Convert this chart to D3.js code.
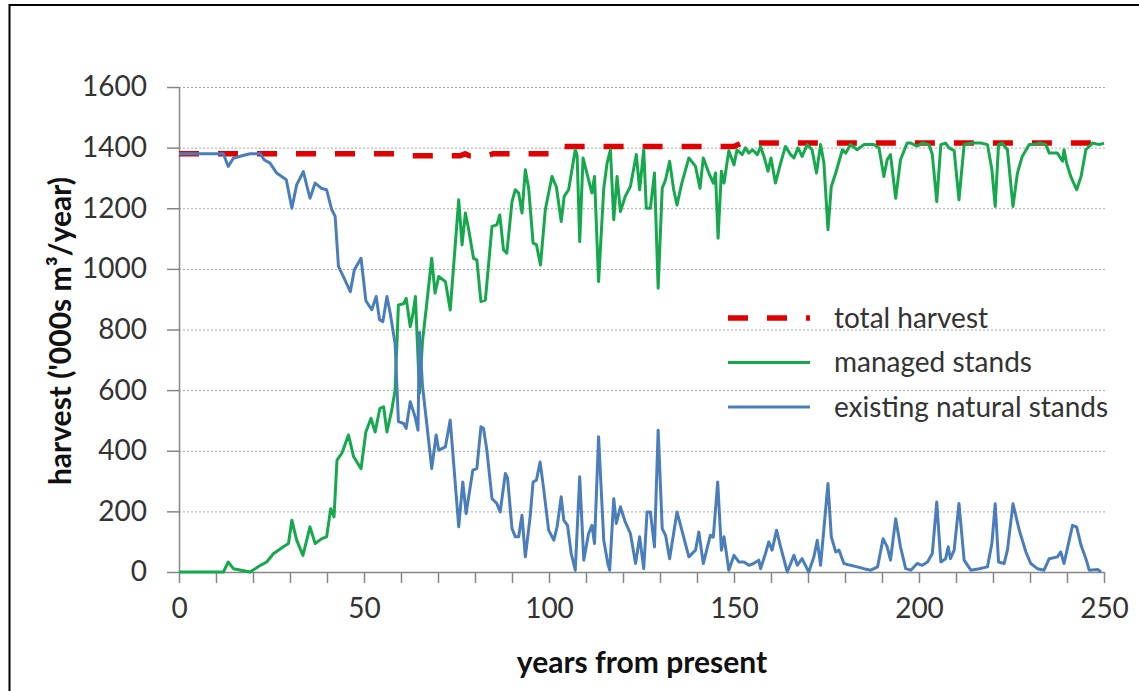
<!DOCTYPE html>
<html>
<head>
<meta charset="utf-8">
<script src="https://cdn.jsdelivr.net/npm/d3@7"></script>
<style>
  body { margin: 0; background: #fff; }
  svg { display: block; font-family: Lato, "Open Sans", sans-serif; }
</style>
</head>
<body>
<svg id="chart" width="1139" height="691"></svg>
<script>
// [year, '000s m3/year] at its turning points
const totalHarvest = [
  [0, 1380], [60, 1380], [63, 1373], [76, 1373], [77.3, 1380], [78.5, 1373], [83, 1373],
  [85, 1380], [102, 1380], [104, 1404], [150, 1404], [152, 1415], [250, 1415]
];

const managedStands = [
  [0, 0], [12, 0], [13.3, 33], [14.7, 11], [19.2, 0], [22, 22], [23.7, 33], [25.5, 60],
  [28.2, 83], [29.6, 94], [30.5, 171], [31.8, 105], [33.5, 55], [35.4, 149], [36.8, 94],
  [38.6, 110], [39.9, 116], [41, 209], [41.9, 182], [42.7, 369], [44, 391], [45.8, 452],
  [47.2, 380], [49.2, 341], [50.5, 462], [51.9, 507], [53, 462], [54.3, 540], [55.3, 545],
  [56.2, 462], [57.5, 534], [58.4, 600], [59.3, 881], [60.7, 885], [61.4, 903], [62.5, 809],
  [63.2, 850], [63.9, 909], [65, 589], [65.8, 760], [67, 890], [68.3, 1035], [69.2, 920],
  [70.2, 975], [72, 958], [73.3, 864], [75.6, 1228], [76.5, 1079], [77.4, 1184], [78.3, 1129],
  [79.6, 1035], [80.5, 1030], [81.6, 892], [82.8, 897], [84.6, 1140], [85.9, 1145],
  [86.7, 1178], [87.7, 1063], [88.6, 1052], [90, 1222], [90.9, 1261], [91.8, 1250],
  [92.7, 1184], [93.6, 1327], [94.5, 1266], [95.7, 1085], [96.6, 1080], [97.7, 1013],
  [99, 1195], [100.8, 1305], [102, 1270], [103.3, 1156], [104.1, 1239], [105.3, 1261],
  [107.1, 1393], [107.6, 1375], [108.3, 1090], [109.2, 1366], [110.7, 1294], [111.6, 1250],
  [112.3, 1305], [113.4, 958], [114.8, 1266], [115.7, 1349], [116.6, 1393], [117.5, 1162],
  [118.4, 1305], [119.3, 1189], [120.6, 1239], [122, 1272], [123.6, 1377], [124.5, 1261],
  [125.6, 1393], [126.3, 1200], [127.4, 1200], [128.5, 1316], [129.5, 936], [130.6, 1266],
  [131.5, 1294], [132.6, 1355], [133.7, 1261], [134.6, 1211], [135.9, 1283], [137.8, 1366],
  [139.6, 1338], [140.8, 1266], [141.7, 1366], [143.2, 1316], [144.4, 1283], [145, 1316],
  [145.7, 1101], [146.6, 1322], [147.3, 1283], [148.6, 1390], [150, 1343], [150.8, 1393],
  [152.2, 1377], [153.1, 1399], [154, 1382], [155, 1393], [156.3, 1377], [157.2, 1404],
  [158.1, 1371], [159.2, 1322], [160, 1366], [161.2, 1283], [162.6, 1349], [163.9, 1404],
  [165.3, 1377], [166.2, 1366], [167.3, 1399], [168.4, 1371], [169.8, 1410], [171.1, 1393],
  [172.3, 1316], [173.4, 1410], [174.3, 1349], [175.4, 1129], [176.3, 1272], [177.5, 1316],
  [178.4, 1355], [179.3, 1393], [180.2, 1382], [181.5, 1410], [183.3, 1393], [185.1, 1410],
  [187.8, 1410], [189.2, 1399], [190.5, 1305], [191.4, 1360], [192.3, 1377], [193.7, 1233],
  [195, 1360], [196.8, 1415], [197.8, 1415], [199.5, 1405], [200.9, 1415], [202.7, 1410],
  [203.6, 1377], [204.8, 1222], [205.9, 1410], [207.2, 1415], [208.1, 1399], [209.5, 1390],
  [210.8, 1228], [212.2, 1410], [214.4, 1415], [216.7, 1415], [218.5, 1410], [219.7, 1327],
  [220.6, 1206], [221.5, 1410], [222.5, 1415], [223.9, 1393], [225.4, 1206], [226.6, 1316],
  [227.9, 1371], [229.8, 1410], [231.2, 1410], [232.5, 1415], [234.3, 1410], [235.2, 1382],
  [237.4, 1382], [238.8, 1355], [239.2, 1393], [239.9, 1349], [241, 1305], [242.6, 1261],
  [243.8, 1305], [245.1, 1393], [246.9, 1415], [248.7, 1410], [250, 1415]
];

const naturalStands = [
  [0, 1380], [12, 1380], [13.3, 1338], [14.7, 1365], [17, 1373], [19.2, 1380], [22, 1380],
  [23, 1360], [24.6, 1349], [26.4, 1316], [29, 1294], [30.5, 1200], [31.8, 1277],
  [33.6, 1321], [35.4, 1233], [36.8, 1283], [38.6, 1265], [39.9, 1261], [41.3, 1195],
  [42.2, 1173], [43.1, 1008], [44.4, 975], [46.3, 925], [47.4, 997], [49.2, 1035],
  [50.5, 895], [52.1, 865], [53.3, 909], [54.2, 832], [55.1, 826], [56.2, 909], [57.1, 853],
  [58.4, 754], [59.3, 496], [60.7, 490], [61.4, 474], [62.5, 562], [63.8, 512], [64.6, 468],
  [65, 790], [65.8, 615], [67, 485], [68.3, 341], [69.5, 452], [70.2, 402], [72, 413],
  [73.3, 501], [75.6, 149], [76.7, 297], [77.6, 193], [79.4, 336], [80.5, 341], [81.6, 479],
  [82.3, 474], [83.2, 402], [84.6, 242], [85.9, 226], [86.8, 198], [88.2, 325], [88.8, 310],
  [90, 143], [90.9, 116], [91.8, 116], [92.7, 187], [93.6, 50], [94.9, 182], [95.7, 297],
  [96.6, 303], [97.6, 363], [98.6, 270], [99.9, 138], [101.3, 105], [102.2, 150],
  [103.3, 248], [104, 171], [105, 154], [106, 61], [107.1, 6], [108.3, 314], [109.4, 39],
  [110.7, 127], [111.6, 154], [112.3, 94], [113.4, 446], [114.8, 105], [115.9, 28],
  [116.4, 6], [117.5, 242], [118.2, 160], [119.3, 215], [120.6, 165], [122, 127],
  [123.4, 28], [124.5, 116], [125.6, 11], [126.5, 198], [127.4, 198], [128.5, 83],
  [129.5, 468], [130.6, 143], [131.5, 121], [132.6, 44], [134.6, 198], [135.9, 138],
  [137.8, 50], [139.6, 72], [140.5, 132], [141.7, 28], [143.6, 121], [144.4, 115],
  [145.6, 297], [146.6, 72], [147.3, 116], [148.6, 6], [150, 55], [151.3, 33], [152.7, 33],
  [154, 22], [155.3, 28], [156.7, 39], [157.2, 11], [158.5, 61], [159.4, 99], [160.3, 72],
  [161.5, 138], [162.6, 83], [164.4, 0], [166.2, 55], [167.1, 22], [168.4, 44], [170.2, 0],
  [171.6, 50], [172.5, 105], [173.4, 22], [175.4, 292], [176.3, 116], [177.5, 66],
  [178.4, 72], [179.7, 28], [181.5, 22], [183.3, 17], [185.1, 11], [187, 6], [188.8, 17],
  [190.3, 110], [191.4, 83], [192.3, 39], [193.7, 176], [195, 83], [196.4, 11], [197.8, 6],
  [199.5, 28], [200.9, 22], [202.3, 33], [203.6, 61], [204.8, 231], [205.9, 33], [207.2, 44],
  [207.9, 83], [208.5, 44], [209.5, 72], [210.8, 226], [212.2, 39], [214, 6], [216.3, 11],
  [218.5, 17], [219.7, 94], [220.6, 225], [221.5, 33], [223, 28], [223.9, 72], [225.4, 225],
  [227.1, 138], [228.9, 66], [230.2, 28], [232, 11], [233.8, 6], [235.2, 44], [237.4, 50],
  [238.3, 66], [239.2, 28], [240.6, 105], [241.5, 154], [242.6, 149], [243.8, 88],
  [245.1, 44], [246, 6], [248.3, 8], [249.2, 0]
];

const seriesLabels = ["total harvest", "managed stands", "existing natural stands"];
const yTicks = [0, 200, 400, 600, 800, 1000, 1200, 1400, 1600];
const xTicks = [0, 10, 20, 30, 40, 50, 60, 70, 80, 90, 100, 110, 120, 130, 140, 150,
  160, 170, 180, 190, 200, 210, 220, 230, 240, 250];
const xLabels = [0, 50, 100, 150, 200, 250];

const svg = d3.select("#chart");
const textColor = "#333";
const axisColor = "#868686";

// chart frame (only its top and left edges fall inside the picture)
svg.append("rect")
  .attr("x", 9.5).attr("y", 5)
  .attr("width", 1200).attr("height", 800)
  .attr("fill", "none")
  .attr("stroke", "#000")
  .attr("stroke-width", 2);

const x = d3.scaleLinear().domain([0, 250]).range([179, 1104]);
const y = d3.scaleLinear().domain([0, 1600]).range([572, 87]);

// dotted horizontal gridlines
svg.append("g")
  .selectAll("line")
  .data(yTicks.filter((d) => d > 0))
  .join("line")
  .attr("x1", x(0)).attr("x2", 1106)
  .attr("y1", (d) => y(d) + 0.5).attr("y2", (d) => y(d) + 0.5)
  .attr("stroke", "#a6a6a6")
  .attr("stroke-dasharray", "2,2");

// y axis
const yAxis = svg.append("g")
  .attr("transform", `translate(${x(0)},0)`)
  .call(d3.axisLeft(y)
    .tickValues(yTicks)
    .tickFormat(d3.format("d"))
    .tickSize(12)
    .tickSizeOuter(0)
    .tickPadding(20));

// x axis, ticks every 10 years, labels every 50
const xAxis = svg.append("g")
  .attr("transform", `translate(0,${y(0)})`)
  .call(d3.axisBottom(x)
    .tickValues(xTicks)
    .tickSize(11)
    .tickSizeOuter(0)
    .tickPadding(15)
    .tickFormat((d) => (xLabels.includes(d) ? d : "")));

for (const g of [xAxis, yAxis]) {
  g.select(".domain").attr("stroke", axisColor).attr("stroke-width", 1.5);
  g.selectAll(".tick line").attr("stroke", axisColor).attr("stroke-width", 1.5);
  g.selectAll(".tick text")
    .attr("fill", textColor)
    .style("font-family", "Lato, sans-serif")
    .style("font-size", "28px");
}

// axis titles
svg.append("text")
  .attr("x", 642).attr("y", 673)
  .attr("text-anchor", "middle")
  .attr("fill", "#111")
  .style("font-size", "30px")
  .style("font-weight", "bold")
  .text("years from present");

svg.append("text")
  .attr("transform", "translate(71,331) rotate(-90)")
  .attr("text-anchor", "middle")
  .attr("fill", "#111")
  .style("font-size", "30px")
  .style("font-weight", "bold")
  .text("harvest ('000s m³/year)");

// lines, in the order the legend lists them
const line = d3.line()
  .x((d) => x(d[0]))
  .y((d) => y(d[1]));

const styles = [
  { color: "#e00000", width: 5.5, dash: "20,19" },
  { color: "#16a84c", width: 3, dash: null },
  { color: "#4a7ebb", width: 3, dash: null }
];
const allSeries = [totalHarvest, managedStands, naturalStands];

svg.append("g")
  .selectAll("path")
  .data(allSeries)
  .join("path")
  .attr("d", line)
  .attr("fill", "none")
  .attr("stroke", (d, i) => styles[i].color)
  .attr("stroke-width", (d, i) => styles[i].width)
  .attr("stroke-dasharray", (d, i) => styles[i].dash)
  .attr("stroke-linejoin", "round");

// legend
const legend = svg.append("g")
  .selectAll("g")
  .data(seriesLabels)
  .join("g")
  .attr("transform", (d, i) => `translate(728,${318 + i * 44.5})`);

legend.append("line")
  .attr("x1", 0).attr("x2", 82)
  .attr("stroke", (d, i) => styles[i].color)
  .attr("stroke-width", (d, i) => styles[i].width)
  .attr("stroke-dasharray", (d, i) => styles[i].dash);

legend.append("text")
  .attr("x", 106)
  .attr("dy", "0.35em")
  .attr("fill", textColor)
  .style("font-size", "28px")
  .text((d) => d);
</script>
</body>
</html>
